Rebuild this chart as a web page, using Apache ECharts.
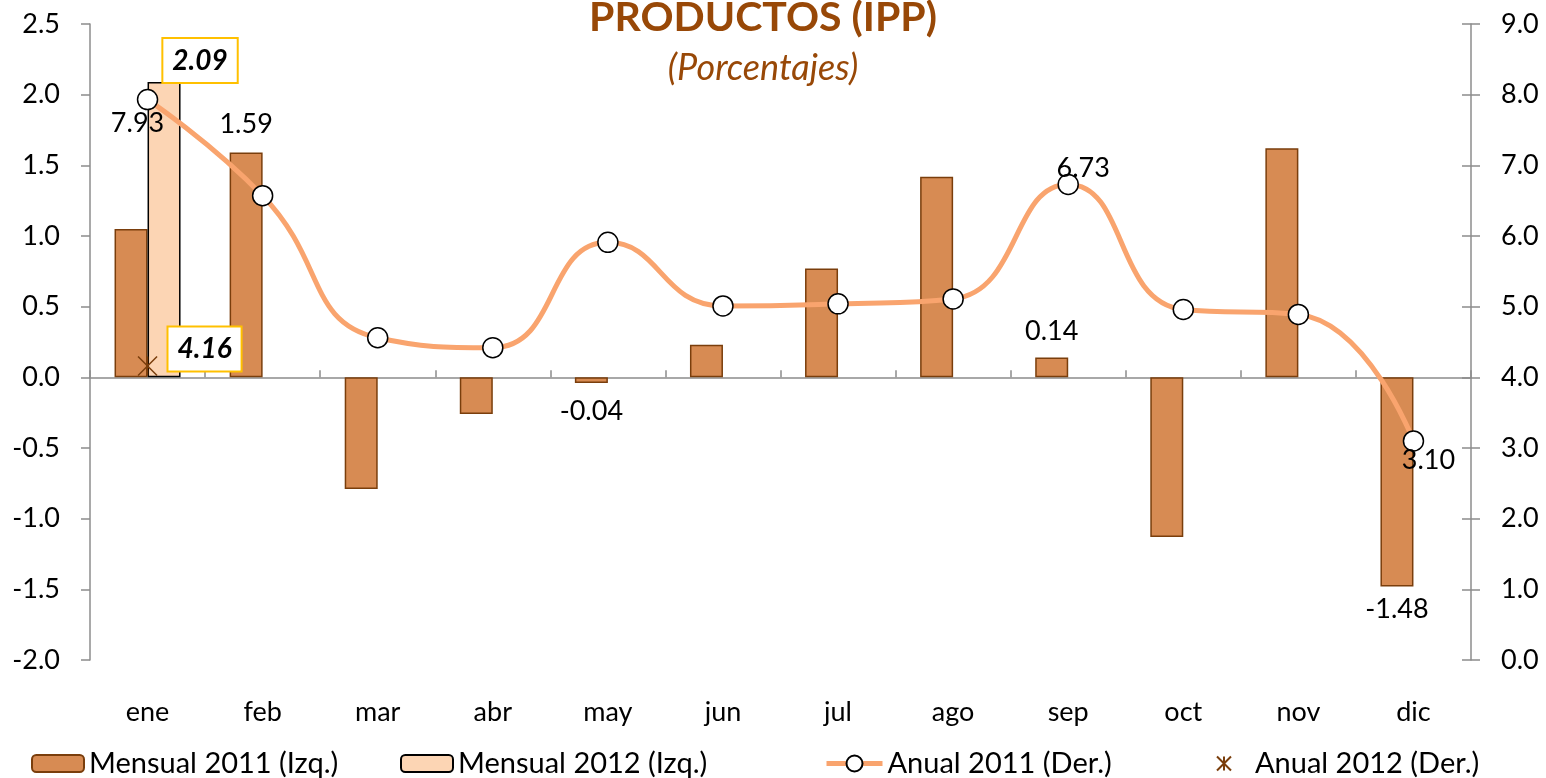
<!DOCTYPE html>
<html>
<head>
<meta charset="utf-8">
<script src="https://cdn.jsdelivr.net/npm/echarts@6/dist/echarts.min.js"></script>
<style>
  html, body { margin: 0; padding: 0; background: #fff; }
  #chart { width: 1546px; height: 778px; }
</style>
</head>
<body>
<div id="chart"></div>
<script>
// datos
var meses = ['ene', 'feb', 'mar', 'abr', 'may', 'jun', 'jul', 'ago', 'sep', 'oct', 'nov', 'dic'];
var mensual2011 = [1.05, 1.59, -0.79, -0.26, -0.04, 0.23, 0.77, 1.42, 0.14, -1.13, 1.62, -1.48];
var mensual2012 = [2.09, null, null, null, null, null, null, null, null, null, null, null];
var anual2011 = [7.93, 6.57, 4.56, 4.42, 5.91, 5.01, 5.04, 5.11, 6.73, 4.96, 4.89, 3.10];
var anual2012 = [4.16, null, null, null, null, null, null, null, null, null, null, null];
var ticksIzq = [-2.0, -1.5, -1.0, -0.5, 0.0, 0.5, 1.0, 1.5, 2.0, 2.5];
var ticksDer = [0, 1, 2, 3, 4, 5, 6, 7, 8, 9];

var FONT = 'Lato';
var gris = '#8c8c8c';
var cafe = '#984807';

// etiquetas que se muestran en la grafica
var etiq2011 = { 1: ['top', 15], 4: ['bottom', 15], 8: ['top', 13], 11: ['bottom', 9] };
var etiqAnual = { 0: [-10, 24], 8: [15, -16], 11: [15, 19] };

var myChart = echarts.init(document.getElementById('chart'));

var cajaAmarilla = {
    fontStyle: 'italic', fontWeight: 'bold',
    backgroundColor: '#fff', borderColor: '#FFC000', borderWidth: 2,
    padding: [8, 9, 7, 9]
};

var dataBar2011 = mensual2011.map(function (v, i) {
    var e = etiq2011[i];
    if (!e) return v;
    return { value: v, label: { show: true, position: e[0], distance: e[1] } };
});
var dataBar2012 = mensual2012.map(function (v, i) {
    if (i !== 0) return v;
    return { value: v, label: Object.assign({ show: true, position: 'top', distance: 0, offset: [36, 0] }, cajaAmarilla) };
});
var dataLinea = anual2011.map(function (v, i) {
    var e = etiqAnual[i];
    if (!e) return v;
    return { value: v, label: { show: true, position: 'inside', offset: e } };
});
var dataX = anual2012.map(function (v, i) {
    if (i !== 0) return v;
    return { value: v, label: Object.assign({ show: true, position: 'inside', offset: [57, -17] }, cajaAmarilla) };
});

var fmt = function (v) { return v.toFixed(1); };
var dosDec = function (p) { return p.value.toFixed(2); };
var estrella = 'path://M0,0L20,20M20,0L0,20M10,0L10,20';

var legendBase = function (left, name, extra) {
    var o = {
        left: left, top: 749, padding: 0,
        itemWidth: 52, itemHeight: 17,
        data: [name],
        selectedMode: false,
        textStyle: { fontFamily: FONT, fontSize: 29, color: '#000' }
    };
    for (var k in extra) o[k] = extra[k];
    return o;
};

var option = {
    animation: false,
    textStyle: { fontFamily: FONT },
    graphic: [
        {
            type: 'text', x: 763, y: 18,
            style: { text: 'PRODUCTOS (IPP)', align: 'center', verticalAlign: 'middle', fontFamily: FONT, fontSize: 41, fontWeight: 'bold', fill: cafe }
        },
        {
            type: 'text', x: 763, y: 68,
            style: { text: '(Porcentajes)', align: 'center', verticalAlign: 'middle', fontFamily: FONT, fontSize: 36, fontStyle: 'italic', fill: cafe }
        }
    ],
    legend: [
        legendBase(31, 'Mensual 2011 (Izq.)'),
        legendBase(400, 'Mensual 2012 (Izq.)'),
        legendBase(824, 'Anual 2011 (Der.)', { itemWidth: 56, itemHeight: 20, lineStyle: { width: 5, color: '#F9A46E' } }),
        legendBase(1216, 'Anual 2012 (Der.)', { itemWidth: 14, itemHeight: 14, textStyle: { fontFamily: FONT, fontSize: 29, color: '#000', padding: [0, 0, 0, 19] } })
    ],
    grid: { left: 90, right: 75, top: 24, bottom: 118 },
    xAxis: [
        {
            type: 'category', data: meses, position: 'bottom',
            axisLine: { onZero: true, lineStyle: { color: gris, width: 1.5 } },
            axisTick: { show: true, inside: true, length: 7, interval: 0, lineStyle: { color: gris, width: 1.5 } },
            axisLabel: { show: false }
        },
        {
            type: 'category', data: meses, position: 'bottom',
            axisLine: { show: false, onZero: false },
            axisTick: { show: false },
            axisLabel: { margin: 39, fontFamily: FONT, fontSize: 27, color: '#000', interval: 0 }
        }
    ],
    yAxis: [
        {
            type: 'value', position: 'left', min: ticksIzq[0], max: ticksIzq[ticksIzq.length - 1], interval: 0.5,
            axisLine: { show: true, lineStyle: { color: gris, width: 1.5 } },
            axisTick: { show: true, length: 9, lineStyle: { color: gris, width: 1.5 } },
            axisLabel: { margin: 30, formatter: fmt, fontFamily: FONT, fontSize: 27, color: '#000' },
            splitLine: { show: false }
        },
        {
            type: 'value', position: 'right', min: ticksDer[0], max: ticksDer[ticksDer.length - 1], interval: 1,
            axisLine: { show: true, lineStyle: { color: gris, width: 1.5 } },
            axisTick: { show: true, length: 9, lineStyle: { color: gris, width: 1.5 } },
            axisLabel: { margin: 30, formatter: fmt, fontFamily: FONT, fontSize: 27, color: '#000' },
            splitLine: { show: false }
        },
        {
            type: 'value', position: 'right', min: ticksDer[0], max: ticksDer[ticksDer.length - 1], interval: 1,
            axisLine: { show: false },
            axisTick: { show: true, inside: true, length: 9, lineStyle: { color: gris, width: 1.5 } },
            axisLabel: { show: false },
            splitLine: { show: false }
        }
    ],
    series: [
        {
            name: 'Mensual 2011 (Izq.)', type: 'bar', data: dataBar2011,
            barWidth: 33, barGap: '0%',
            itemStyle: { color: '#D78B53', borderColor: '#7A3E0C', borderWidth: 1.5 },
            label: { fontFamily: FONT, fontSize: 27, color: '#000' },
            z: 2
        },
        {
            name: 'Mensual 2012 (Izq.)', type: 'bar', data: dataBar2012,
            barWidth: 33, barGap: '0%',
            itemStyle: { color: '#FCD5B4', borderColor: '#000', borderWidth: 1.5 },
            label: { fontFamily: FONT, fontSize: 28, color: '#000' },
            z: 2
        },
        {
            name: 'Anual 2011 (Der.)', type: 'line', data: dataLinea, yAxisIndex: 1,
            smooth: 0.5, symbol: 'circle', symbolSize: 20,
            lineStyle: { color: '#F9A46E', width: 5 },
            itemStyle: { color: '#fff', borderColor: '#000', borderWidth: 1.5 },
            label: { fontFamily: FONT, fontSize: 27, color: '#000', formatter: dosDec },
            z: 4
        },
        {
            name: 'Anual 2012 (Der.)', type: 'scatter', data: dataX, yAxisIndex: 1,
            symbol: estrella, symbolSize: 19,
            itemStyle: { color: 'rgba(0,0,0,0)', borderColor: '#7A3E0C', borderWidth: 1.5, opacity: 1 },
            label: { fontFamily: FONT, fontSize: 28, color: '#000', formatter: dosDec },
            z: 5
        }
    ]
};

myChart.setOption(option);
window.addEventListener('resize', function () { myChart.resize(); });
</script>
</body>
</html>
